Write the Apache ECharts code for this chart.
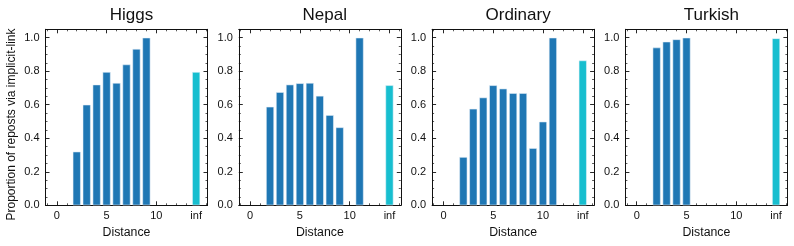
<!DOCTYPE html>
<html><head><meta charset="utf-8">
<script src="https://cdn.jsdelivr.net/npm/echarts@6/dist/echarts.min.js"></script>
<style>html,body{margin:0;padding:0;background:#fff}#c{width:794px;height:246px}</style>
</head><body><div id="c"></div>
<script>
// ---- data ----
const panelTitles = ['Higgs', 'Nepal', 'Ordinary', 'Turkish'];

const higgsDistances = [2, 3, 4, 5, 6, 7, 8, 9];
const higgsValues = [0.32, 0.60, 0.72, 0.795, 0.73, 0.84, 0.933, 1.0];
const higgsInf = 0.795;

const nepalDistances = [2, 3, 4, 5, 6, 7, 8, 9, 11];
const nepalValues = [0.588, 0.675, 0.72, 0.728, 0.73, 0.653, 0.538, 0.465, 1.0];
const nepalInf = 0.716;

const ordinaryDistances = [2, 3, 4, 5, 6, 7, 8, 9, 10, 11];
const ordinaryValues = [0.288, 0.576, 0.643, 0.716, 0.696, 0.669, 0.669, 0.341, 0.499, 1.0];
const ordinaryInf = 0.864;

const turkishDistances = [2, 3, 4, 5];
const turkishValues = [0.941, 0.976, 0.99, 1.0];
const turkishInf = 0.996;

const infPosition = 14;
const xTickValues = [0, 5, 10, 14];
const xTickLabels = ['0', '5', '10', 'inf'];
const xMinorTickValues = [-1, 1, 2, 3, 4, 6, 7, 8, 9, 11, 12, 13, 15];
const yTickValues = [0, 0.2, 0.4, 0.6, 0.8, 1.0];
const yMinorTickValues = [0.05, 0.1, 0.15, 0.25, 0.3, 0.35, 0.45, 0.5, 0.55, 0.65, 0.7, 0.75, 0.85, 0.9, 0.95, 1.05];

const xAxisName = 'Distance';
const yAxisName = 'Proportion of reposts via implicit-link';

const panelDistances = [higgsDistances, nepalDistances, ordinaryDistances, turkishDistances];
const panelValues = [higgsValues, nepalValues, ordinaryValues, turkishValues];
const panelInf = [higgsInf, nepalInf, ordinaryInf, turkishInf];

// ---- style / layout ----
const FONT = 'Liberation Sans, Arial, Helvetica, sans-serif';
const INK = '#111111';
const BLUE = '#1f77b4';
const CYAN = '#17becf';
const X_MIN = -1.14, X_MAX = 15.14, Y_MIN = 0, Y_MAX = 1.05;
const GRID_LEFT0 = 45.5, GRID_STEP = 193.3, GRID_W = 162, GRID_TOP = 29.3, GRID_H = 176;

const grids = [], xAxes = [], yAxes = [], series = [], titles = [];

function xAxisCfg(gi, pos, major, showLabel, showLine) {
  return {
    type: 'value', gridIndex: gi, position: pos, min: X_MIN, max: X_MAX,
    axisLine: { show: showLine, onZero: false, lineStyle: { color: INK, width: 1 } },
    axisTick: { show: true, inside: true, length: major ? 4 : 2,
      customValues: major ? xTickValues : xMinorTickValues,
      lineStyle: { color: INK, width: major ? 0.9 : 0.7 } },
    axisLabel: showLabel ? {
      show: true, customValues: xTickValues, margin: 5,
      fontFamily: FONT, fontSize: 11, color: INK,
      formatter: v => { const k = xTickValues.findIndex(t => Math.abs(t - v) < 1e-6); return k >= 0 ? xTickLabels[k] : ''; }
    } : { show: false },
    splitLine: { show: false },
    name: showLabel ? xAxisName : '', nameLocation: 'middle', nameGap: 20,
    nameTextStyle: { fontFamily: FONT, fontSize: 12.3, color: INK }
  };
}
function yAxisCfg(gi, pos, major, showLabel, showLine) {
  return {
    type: 'value', gridIndex: gi, position: pos, min: Y_MIN, max: Y_MAX,
    axisLine: { show: showLine, onZero: false, lineStyle: { color: INK, width: 1 } },
    axisTick: { show: true, inside: true, length: major ? 4 : 2,
      customValues: major ? yTickValues : yMinorTickValues,
      lineStyle: { color: INK, width: major ? 0.9 : 0.7 } },
    axisLabel: showLabel ? {
      show: true, customValues: yTickValues, margin: 6,
      fontFamily: FONT, fontSize: 11, color: INK,
      formatter: v => v.toFixed(1)
    } : { show: false },
    splitLine: { show: false }
  };
}

for (let i = 0; i < 4; i++) {
  const left = GRID_LEFT0 + i * GRID_STEP;
  grids.push({ left: left, top: GRID_TOP, width: GRID_W, height: GRID_H, containLabel: false });
  xAxes.push(xAxisCfg(i, 'bottom', true, true, true));
  xAxes.push(xAxisCfg(i, 'bottom', false, false, false));
  xAxes.push(xAxisCfg(i, 'top', true, false, true));
  xAxes.push(xAxisCfg(i, 'top', false, false, false));
  yAxes.push(yAxisCfg(i, 'left', true, true, true));
  yAxes.push(yAxisCfg(i, 'left', false, false, false));
  yAxes.push(yAxisCfg(i, 'right', true, false, true));
  yAxes.push(yAxisCfg(i, 'right', false, false, false));

  const data = panelDistances[i].map((d, k) => ({ value: [d, panelValues[i][k]], itemStyle: { color: BLUE } }));
  data.push({ value: [infPosition, panelInf[i]], itemStyle: { color: CYAN } });
  series.push({
    type: 'bar', xAxisIndex: i * 4, yAxisIndex: i * 4, barWidth: 8,
    itemStyle: { borderColor: 'rgba(235,242,250,0.9)', borderWidth: 0.6 },
    data: data, animation: false, silent: true
  });

  titles.push({
    text: panelTitles[i], left: left + GRID_W / 2, top: 2, textAlign: 'center',
    textStyle: { fontFamily: FONT, fontSize: 17, fontWeight: 'normal', color: INK }
  });
}

const chart = echarts.init(document.getElementById('c'), null, { renderer: 'canvas' });
chart.setOption({
  animation: false,
  backgroundColor: '#ffffff',
  title: titles,
  grid: grids,
  xAxis: xAxes,
  yAxis: yAxes,
  series: series,
  graphic: [{
    type: 'text', x: 11.5, y: 124.5, rotation: Math.PI / 2,
    style: { text: yAxisName, fontFamily: FONT, fontSize: 12, fill: INK, align: 'center', verticalAlign: 'middle' }
  }]
});
</script></body></html>
